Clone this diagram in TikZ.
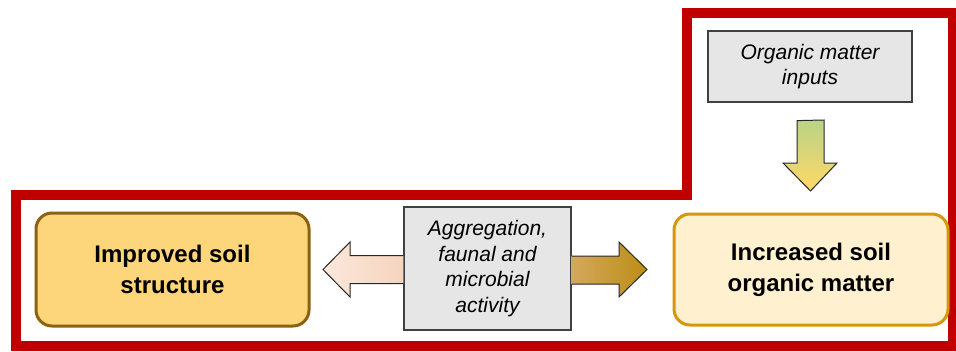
\documentclass[tikz,border=0pt]{standalone}
\usepackage{fontspec}
\setmainfont{Liberation Sans}
\definecolor{frame}{HTML}{C00000}
\definecolor{greybox}{HTML}{E6E6E6}
\definecolor{greyline}{HTML}{404040}
\definecolor{orangefill}{HTML}{FDD57A}
\definecolor{orangeline}{HTML}{8C6210}
\definecolor{creamfill}{HTML}{FFF0D0}
\definecolor{creamline}{HTML}{D6970A}
\definecolor{peachA}{HTML}{FCE8DB}
\definecolor{peachB}{HTML}{F6D4BE}
\definecolor{goldA}{HTML}{D4A85E}
\definecolor{goldB}{HTML}{BC8D14}
\definecolor{greenA}{HTML}{A9D18E}
\definecolor{yellowB}{HTML}{FFD966}
\tikzset{
  greyproc/.style={draw=greyline, line width=1.2pt, fill=greybox, align=center, font=\fontsize{21}{25.5}\selectfont\itshape},
  outcome/.style={rounded corners=16pt, line width=3pt, align=center, font=\fontsize{24}{31}\selectfont\bfseries},
  flowarrow/.style={draw=black!85, line width=1pt},
}
\begin{document}
\begin{tikzpicture}[x=1pt,y=-1pt]
\useasboundingbox (0,0) rectangle (956,351);
\fill[white] (0,0) rectangle (956,351);
% red frame
\begin{scope}
\clip (0,0) rectangle (956,351);
\draw[frame, line width=10pt] (16,195) -- (687,195) -- (687,13) -- (953,13) -- (953,346) -- (16,346) -- cycle;
\end{scope}
% nodes
\node[outcome, draw=orangeline, fill=orangefill, minimum width=273pt, minimum height=113pt] (iss) at (172.5,269.5) {Improved soil\\structure};
\node[outcome, draw=creamline, fill=creamfill, minimum width=274pt, minimum height=111pt] (isom) at (811,269.5) {Increased soil\\organic matter};
\node[greyproc, minimum width=167pt, minimum height=123pt] (agg) at (487.5,268.5) {Aggregation,\\faunal and\\microbial\\activity};
\node[greyproc, minimum width=204pt, minimum height=71pt] (omi) at (810,66.5) {Organic matter\\inputs};
% arrows
\draw[flowarrow, left color=peachA, right color=peachB]
  (agg.west |- 0,255.5) -- (350,255.5) -- (350,242) -- (323,269.5) -- (350,297) -- (350,283.5) -- (agg.west |- 0,283.5);
\draw[flowarrow, left color=goldA, right color=goldB]
  (agg.east |- 0,256) -- (619,256) -- (619,242) -- (647,269.5) -- (619,297) -- (619,284) -- (agg.east |- 0,284);
\draw[flowarrow, top color=greenA, bottom color=yellowB]
  (omi.south -| 797,0) ++(0,18) coordinate (dtop) -- (824,120) -- (824,163) -- (837,163) -- (810.5,191) -- (783,163) -- (797,163) -- cycle;
\end{tikzpicture}
\end{document}
